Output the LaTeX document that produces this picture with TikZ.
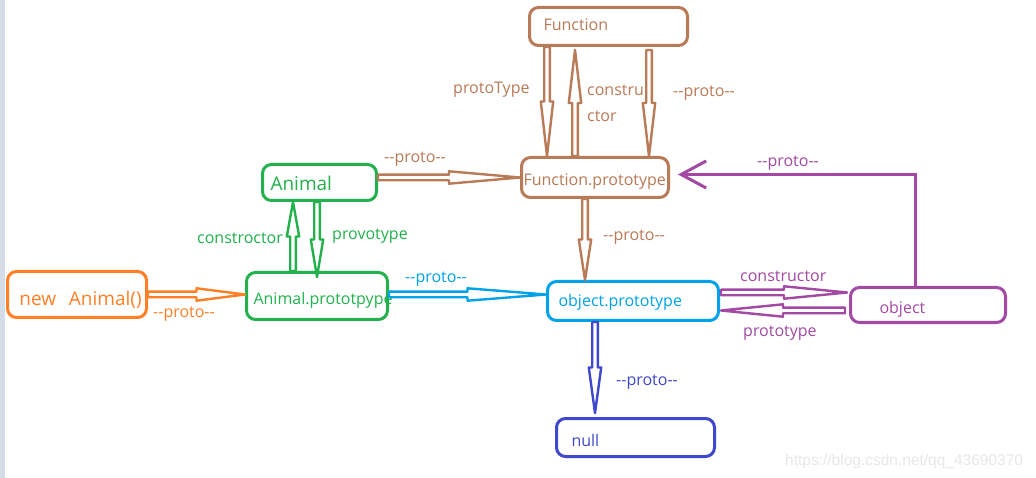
\documentclass[tikz,border=0pt]{standalone}
\usepackage{fontspec}
\setmainfont{Open Sans}
\newfontfamily\wmfont{Liberation Sans}
\usetikzlibrary{calc,arrows.meta}
\definecolor{pbrown}{HTML}{B97A57}
\definecolor{pgreen}{HTML}{22B14C}
\definecolor{porange}{HTML}{FF7F27}
\definecolor{pblue}{HTML}{00A2E8}
\definecolor{pindigo}{HTML}{3F48CC}
\definecolor{ppurple}{HTML}{A349A4}
\definecolor{pstrip}{HTML}{D4DCE8}
\definecolor{pwm}{HTML}{E8E8E8}
\newcommand\holarrow[3]{%
  \coordinate (ha) at #2;
  \coordinate (hb) at #3;
  \coordinate (hm) at ($(ha)!0.5!(hb)$);
  \draw[hol=#1]
    ($(ha)!2.8pt!90:(hb)$) -- ($(hm)!2.8pt!90:(hb)$) -- ($(hm)!6.2pt!90:(hb)$)
    -- (hb)
    -- ($(hm)!6.2pt!-90:(hb)$) -- ($(hm)!2.8pt!-90:(hb)$) -- ($(ha)!2.8pt!-90:(hb)$) -- cycle;
}
\begin{document}
\begin{tikzpicture}[x=1pt,y=-1pt,
  box/.style={draw=#1, text=#1, line width=3pt, rounded corners=9pt, inner ysep=0pt,
    align=left, anchor=north west, font=\fontsize{16}{19}\selectfont, text depth=3pt},
  lbl/.style={text=#1, anchor=base west, inner sep=0pt, font=\fontsize{16}{19}\selectfont},
  hol/.style={draw=#1, line width=2.4pt, fill=white, line join=round},
]
\useasboundingbox (0,0) rectangle (1036,478);
\fill[white] (0,0) rectangle (1036,478);
\fill[pstrip] (0,0) rectangle (5,478);

% boxes
\node[box=pbrown, text width=130pt, inner xsep=14pt, minimum height=38pt, text height=11pt] (Function) at (528,6) {\mbox{Function}};
\node[box=pbrown, text width=143pt, inner xsep=2pt, minimum height=40pt, text height=19pt] (FP) at (520,156) {\mbox{Function.prototype}};
\node[box=pgreen, text width=98pt, inner xsep=8pt, minimum height=36pt, text height=19pt, font=\fontsize{19}{22}\selectfont] (Animal) at (261,163) {\mbox{Animal}};
\node[box=pgreen, text width=127pt, inner xsep=7pt, minimum height=47pt, text height=20pt] (AP) at (245,271) {\mbox{Animal.prototpype}};
\node[box=porange, text width=115pt, inner xsep=12pt, minimum height=46pt, text height=25pt, font=\fontsize{19}{22}\selectfont] (NA) at (6,270) {\mbox{new\ \ Animal()}};
\node[box=pblue, text width=149pt, inner xsep=11pt, minimum height=39pt, text height=14pt] (OP) at (546,280) {\mbox{object.prototype}};
\node[box=ppurple, text width=97pt, inner xsep=29pt, minimum height=35pt, text height=20pt] (Obj) at (849,286) {\mbox{object}};
\node[box=pindigo, text width=128pt, inner xsep=15pt, minimum height=38pt, text height=21pt] (null) at (555,417) {\mbox{null}};

% hollow arrows
\holarrow{pbrown}{($(Function.south west)+(19,0)$)}{($(FP.north west)+(27,0)$)}
\holarrow{pbrown}{($(FP.north west)+(55,0)$)}{($(Function.south west)+(47,3)$)}
\holarrow{pbrown}{($(Function.south west)+(121,3)$)}{($(FP.north west)+(129,0)$)}
\holarrow{pbrown}{(Animal.east |- FP.west)}{(FP.west)}
\holarrow{porange}{(NA.east)}{(AP.west |- NA.east)}
\holarrow{pblue}{($(AP.east)+(0,-1.5)$)}{($(OP.west)+(0,-6.5)$)}
\holarrow{pgreen}{($(Animal.south west)+(56,0)$)}{($(AP.north west)+(72,6)$)}
\holarrow{pgreen}{($(AP.north west)+(48,0)$)}{($(Animal.south west)+(32,0)$)}
\holarrow{pbrown}{($(FP.south west)+(65,0)$)}{($(OP.north west)+(39,0)$)}
\holarrow{pindigo}{($(OP.south west)+(49,0)$)}{($(null.north west)+(40,-4)$)}
\holarrow{ppurple}{($(OP.east)+(1,-8.5)$)}{($(Obj.west)+(-2,-12.5)$)}
\holarrow{ppurple}{($(Obj.west)+(-4,5.5)$)}{($(OP.east)+(1,9.5)$)}

% object -> Function.prototype
\draw[ppurple, line width=3pt, -{Straight Barb[length=25pt,width=27pt]}]
  ($(Obj.north west)+(66,0)$) |- ($(FP.east)+(8,-3)$);

% labels
\node[lbl=pbrown] (l1) at (453,94) {protoType};
\node[lbl=pbrown] (l2) at (587,96) {constru};
\node[lbl=pbrown] (l3) at (587,122) {ctor};
\node[lbl=pbrown] (l4) at (673,97) {-{}-proto-{}-};
\node[lbl=pbrown] (l5) at (384,163) {-{}-proto-{}-};
\node[lbl=pbrown] (l6) at (603,241) {-{}-proto-{}-};
\node[lbl=ppurple] (l7) at (757,167) {-{}-proto-{}-};
\node[lbl=pgreen] (l8) at (197,244) {constroctor};
\node[lbl=pgreen] (l9) at (332,240) {provotype};
\node[lbl=porange] (l10) at (153,317) {-{}-proto-{}-};
\node[lbl=pblue] (l11) at (405,283) {-{}-proto-{}-};
\node[lbl=ppurple] (l12) at (740,282) {constructor};
\node[lbl=ppurple] (l13) at (743,337) {prototype};
\node[lbl=pindigo] (l14) at (616,385) {-{}-proto-{}-};

\node[anchor=base west, inner sep=0pt, text=pwm, font=\wmfont\fontsize{15.5}{18}\selectfont] (wm) at (785,465) {https://blog.csdn.net/qq\_43690370};
\end{tikzpicture}
\end{document}
